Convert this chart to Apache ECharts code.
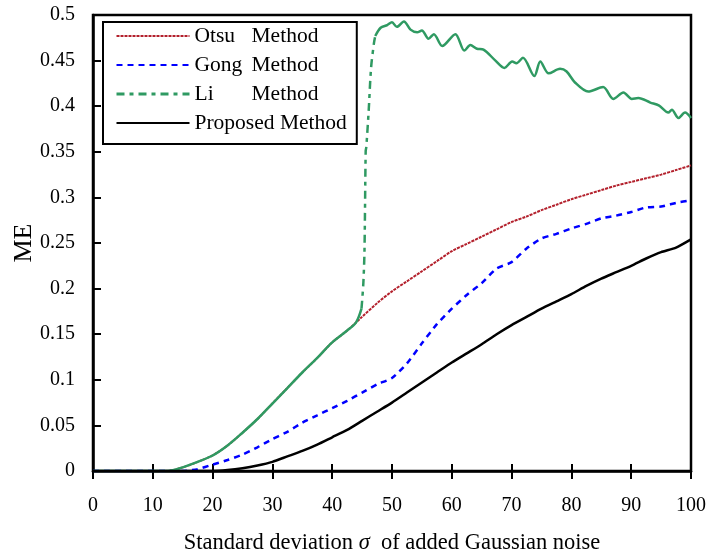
<!DOCTYPE html>
<html>
<head>
<meta charset="utf-8">
<script src="https://cdn.jsdelivr.net/npm/echarts@6/dist/echarts.min.js"></script>
<style>html,body{margin:0;padding:0;background:#fff;}</style>
</head>
<body>
<div id="main" style="width:707px;height:556px;"></div>
<script type="text/javascript">
// noise level (x axis) shared by Otsu, Gong and the proposed method
var sigma = [0, 2.5, 5, 7.5, 10, 12.5, 15, 17.5, 20, 22.5, 25, 27.5, 30, 32.5, 35, 37.5, 40, 42.5, 45, 47.5,
             50, 52.5, 55, 57.5, 60, 62.5, 65, 67.5, 70, 72.5, 75, 77.5, 80, 82.5, 85, 87.5, 90, 92.5, 95, 97.5, 100];
var otsu = [0, 0, 0, 0, 0, 0, 0.004, 0.010, 0.017, 0.028, 0.042, 0.057, 0.074, 0.091, 0.108, 0.124, 0.141, 0.154, 0.169, 0.184,
            0.197, 0.208, 0.219, 0.230, 0.241, 0.249, 0.257, 0.265, 0.273, 0.279, 0.286, 0.292, 0.298, 0.303, 0.308, 0.313, 0.317, 0.321, 0.325, 0.330, 0.335];
var gong = [0, 0, 0, 0, 0, 0, 0, 0.002, 0.007, 0.012, 0.018, 0.026, 0.035, 0.043, 0.053, 0.061, 0.069, 0.077, 0.086, 0.095,
            0.102, 0.118, 0.140, 0.161, 0.178, 0.193, 0.206, 0.222, 0.229, 0.244, 0.255, 0.260, 0.266, 0.271, 0.277, 0.280, 0.284, 0.289, 0.290, 0.294, 0.297];
var proposed = [0, 0, 0, 0, 0, 0, 0, 0, 0, 0.001, 0.003, 0.006, 0.010, 0.016, 0.022, 0.029, 0.037, 0.045, 0.055, 0.065,
                0.075, 0.086, 0.097, 0.108, 0.119, 0.129, 0.139, 0.150, 0.160, 0.169, 0.178, 0.186, 0.194, 0.203, 0.211, 0.218, 0.225, 0.233, 0.240, 0.245, 0.254];

// Li method has its own sampling (jump near 45 and wiggles after)
var liX = [0, 5, 10, 12.5, 15, 17.5, 20, 22.5, 25, 27.5, 30, 32.5, 35, 37.5, 40, 42.5, 44, 44.9,
           45.2, 45.4, 45.6, 45.7, 46.1, 46.5, 47.0, 47.2,
           48.1, 49.2, 50.0, 50.8, 52.0, 53.1, 54.2, 55.0, 56.1, 57.0, 58.4, 60.6, 62.1, 63.1, 64.2, 65.3,
           67.3, 68.8, 70.1, 70.8, 71.9, 73.8, 74.8, 76.2, 78.1, 79.2, 80.6, 82.8, 85.3, 87.0, 88.7, 90.1,
           91.2, 93.2, 94.6, 96.2, 96.8, 97.9, 99.0, 100];
var liY = [0, 0, 0, 0, 0.004, 0.010, 0.017, 0.028, 0.042, 0.057, 0.074, 0.091, 0.108, 0.124, 0.141, 0.154, 0.163, 0.178,
           0.205, 0.242, 0.351, 0.355, 0.395, 0.442, 0.470, 0.477,
           0.486, 0.489, 0.492, 0.487, 0.493, 0.484, 0.481, 0.483, 0.474, 0.479, 0.466, 0.479, 0.461, 0.467, 0.463, 0.462,
           0.450, 0.442, 0.449, 0.447, 0.453, 0.433, 0.449, 0.436, 0.441, 0.438, 0.426, 0.416, 0.421, 0.408, 0.415, 0.408,
           0.409, 0.404, 0.401, 0.393, 0.396, 0.387, 0.393, 0.387];
var jumpFrom = 44.9, jumpTo = 47.2;

var legendNames = ['Otsu Method', 'Gong Method', 'Li Method', 'Proposed Method'];

var font = 'Liberation Serif';

function pairs(xs, ys) {
    return xs.map(function (x, i) { return [x, ys[i]]; });
}
var liAll = pairs(liX, liY);
var liJump = liAll.filter(function (p) { return p[0] >= jumpFrom && p[0] <= jumpTo; });
var liLow = liAll.filter(function (p) { return p[0] <= jumpFrom; });
var liHigh = liAll.filter(function (p) { return p[0] >= jumpTo; });

var green = '#2f9a62';
var myChart = echarts.init(document.getElementById('main'));

var option = {
    animation: false,
    backgroundColor: '#fff',
    textStyle: { fontFamily: font, color: '#000' },
    grid: [
        { left: 93, right: 16, top: 15, bottom: 85, show: true, borderColor: '#000', borderWidth: 2.5,
          containLabel: false, outerBoundsMode: 'none' },
        { left: 93, right: 16, top: 15, bottom: 85, show: false, containLabel: false, outerBoundsMode: 'none' }
    ],
    legend: {
        data: legendNames.map(function (n) {
            return n === 'Li Method' ? { name: n, lineStyle: { type: [8, 5, 4, 5], width: 3, color: green } } : { name: n };
        }),
        itemStyle: { opacity: 0 },   // line sample only, no marker
        orient: 'vertical',
        left: 103,
        top: 22,
        itemWidth: 73,
        itemHeight: 14,
        itemGap: 7,
        padding: [3, 10, 10, 12],
        borderColor: '#000',
        borderWidth: 2,
        backgroundColor: '#fff',
        selectedMode: false,
        formatter: function (name) {
            if (name === 'Proposed Method') return name;
            return '{a|' + name.split(' ')[0] + '}Method';
        },
        textStyle: {
            fontFamily: font, fontSize: 21.5, color: '#000',
            rich: { a: { width: 57, fontFamily: font, fontSize: 21.5, color: '#000' } }
        }
    },
    xAxis: [
        {
            type: 'value', min: 0, max: 100, interval: 10,
            axisLine: { lineStyle: { color: '#000', width: 2.5 } },
            axisTick: { inside: true, length: 7, lineStyle: { color: '#000', width: 2 } },
            axisLabel: { margin: 25, fontSize: 20, fontFamily: font, color: '#000' },
            splitLine: { show: false },
            name: '{n|Standard deviation }{s|σ}{n|  of added Gaussian noise}',
            nameLocation: 'middle',
            nameGap: 61,
            nameTextStyle: {
                rich: {
                    n: { fontFamily: font, fontSize: 22.5, color: '#000' },
                    s: { fontFamily: font, fontSize: 22.5, fontStyle: 'italic', color: '#000' }
                }
            }
        },
        {
            gridIndex: 1, type: 'value', min: 0, max: 100, interval: 10,
            axisLine: { show: false },
            axisTick: { inside: false, length: 8, lineStyle: { color: '#000', width: 2 } },
            axisLabel: { show: false },
            splitLine: { show: false }
        }
    ],
    yAxis: [
        {
            type: 'value', min: 0, max: 0.5, interval: 0.05,
            axisLine: { show: true, lineStyle: { color: '#000', width: 2.5 } },
            axisTick: { show: true, inside: true, length: 8, lineStyle: { color: '#000', width: 2 } },
            axisLabel: { margin: 18, fontSize: 20, fontFamily: font, color: '#000' },
            splitLine: { show: false },
            name: 'ME',
            nameLocation: 'middle',
            nameMoveOverlap: false,
            nameGap: 56,
            nameTextStyle: { fontFamily: font, fontSize: 26, color: '#000' }
        },
        { gridIndex: 1, type: 'value', min: 0, max: 0.5, show: false }
    ],
    series: [
        {
            name: 'Otsu Method', type: 'line', symbol: 'none', smooth: 0.3,
            lineStyle: { color: '#b3202c', width: 2, type: [3, 1] },
            itemStyle: { color: '#b3202c' },
            data: pairs(sigma, otsu)
        },
        {
            name: 'Gong Method', type: 'line', symbol: 'none', smooth: 0.2,
            lineStyle: { color: '#0000ff', width: 2.5, type: [6, 5] },
            itemStyle: { color: '#0000ff' },
            data: pairs(sigma, gong)
        },
        {
            name: 'Li Method', type: 'line', symbol: 'none', smooth: 0.3,
            lineStyle: { color: green, width: 2.5, type: [8, 5, 4, 5] },
            itemStyle: { color: green },
            data: liJump
        },
        {
            name: 'Li Method', type: 'line', symbol: 'none', smooth: 0.3,
            lineStyle: { color: green, width: 2.5, type: 'solid' },
            itemStyle: { color: green },
            data: liLow
        },
        {
            name: 'Li Method', type: 'line', symbol: 'none', smooth: 0.3,
            lineStyle: { color: green, width: 2.5, type: 'solid' },
            itemStyle: { color: green },
            data: liHigh
        },
        {
            name: 'Proposed Method', type: 'line', symbol: 'none', smooth: 0.2,
            lineStyle: { color: '#000', width: 2.5 },
            itemStyle: { color: '#000' },
            data: pairs(sigma, proposed)
        }
    ]
};
myChart.setOption(option);
</script>
</body>
</html>
